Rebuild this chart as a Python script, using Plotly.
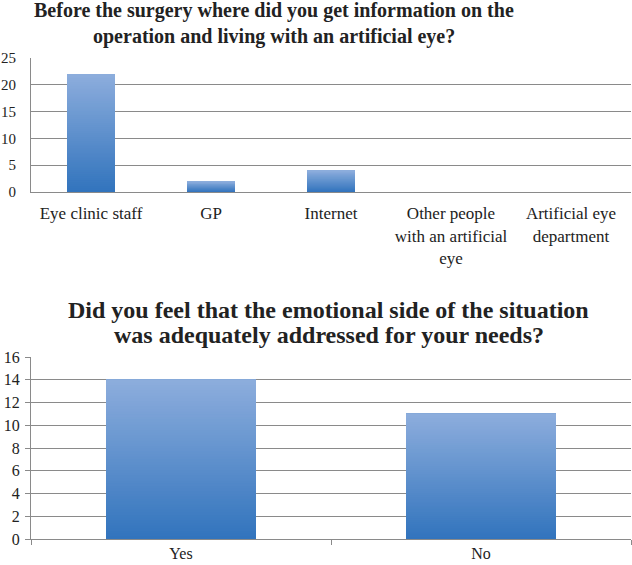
import plotly.graph_objects as go

# ---- data ----
cats1 = ["Eye clinic staff", "GP", "Internet",
         "Other people<br>with an artificial<br>eye", "Artificial eye<br>department"]
vals1 = [22, 2, 4, 0, 0]
title1_lines = ["Before the surgery where did you get information on the",
                "operation and living with an artificial eye?"]

cats2 = ["Yes", "No"]
vals2 = [14, 11]
title2_lines = ["Did you feel that the emotional side of the situation",
                "was adequately addressed for your needs?"]

# ---- style ----
TOP = (142, 174, 221)
BOT = (50, 116, 189)
NSEG = 60
FONT = "Liberation Serif"
GRID = "#8a8a8a"
W, H = 632, 565
L = 31


def seg_color(t):
    r = [round(BOT[k] + (TOP[k] - BOT[k]) * t) for k in range(3)]
    return f"rgb({r[0]},{r[1]},{r[2]})"


fig = go.Figure()


def add_gradient_bars(cats, vals, xa, ya, width):
    for i in range(NSEG):
        f = i / NSEG
        fig.add_trace(go.Bar(
            x=cats, y=[v * (1 - f) for v in vals], base=[v * f for v in vals],
            width=width, marker=dict(color=seg_color(f), line=dict(width=0)),
            xaxis=xa, yaxis=ya, showlegend=False, hoverinfo="skip"))


add_gradient_bars(cats1, vals1, "x", "y", 0.4)
add_gradient_bars(cats2, vals2, "x2", "y2", 0.5)

xtickfont = dict(family=FONT, size=17, color="#222")
xtickfont2 = dict(family=FONT, size=16, color="#222")
ytickfont1 = dict(family=FONT, size=15, color="#222")
ytickfont2 = dict(family=FONT, size=16, color="#222")


def px(xp):
    return (xp - L) / (W - L)


def py(yp):
    return 1 - yp / H


annotations = []
for line, yc in zip(title1_lines, [10, 36]):
    annotations.append(dict(text=line, x=px(274), xref="paper", y=py(yc), yref="paper",
                            xanchor="center", yanchor="middle", showarrow=False,
                            font=dict(family=FONT, size=20, color="#222", weight="bold")))
for line, yc in zip(title2_lines, [309.5, 335]):
    annotations.append(dict(text=line, x=px(329), xref="paper", y=py(yc), yref="paper",
                            xanchor="center", yanchor="middle", showarrow=False,
                            font=dict(family=FONT, size=24, color="#222", weight="bold")))

fig.update_layout(
    width=W, height=H, barmode="overlay",
    margin=dict(l=L, r=1, t=0, b=0),
    paper_bgcolor="white", plot_bgcolor="white",
    font=dict(family=FONT, color="#222"),
    xaxis=dict(domain=[0, 1], anchor="y", showgrid=False, showline=True,
               linecolor=GRID, linewidth=1, ticks="", tickfont=xtickfont,
               ticklabelstandoff=6, automargin=False,
               categoryorder="array", categoryarray=cats1, fixedrange=True),
    yaxis=dict(domain=[py(192), py(58)], anchor="x", range=[0, 25],
               tickvals=[0, 5, 10, 15, 20, 25], showgrid=True, gridcolor=GRID,
               gridwidth=1, showline=True, linecolor=GRID, linewidth=1,
               ticks="", ticklabelstandoff=11, tickfont=ytickfont1,
               zeroline=False, fixedrange=True, automargin=False),
    xaxis2=dict(domain=[0, 1], anchor="y2", showgrid=False, showline=True,
                linecolor=GRID, linewidth=1, ticks="outside", tickson="boundaries",
                ticklen=5, tickcolor=GRID, tickfont=xtickfont2, ticklabelstandoff=0,
                automargin=False,
                categoryorder="array", categoryarray=cats2, fixedrange=True),
    yaxis2=dict(domain=[py(539), py(357)], anchor="x2", range=[0, 16],
                dtick=2, showgrid=True, gridcolor=GRID, gridwidth=1,
                showline=True, linecolor=GRID, linewidth=1, ticks="outside",
                ticklen=5, tickcolor=GRID, tickfont=ytickfont2, ticklabelstandoff=2,
                zeroline=False, fixedrange=True, automargin=False),
    annotations=annotations,
)

fig.write_html("out.html", config={"displayModeBar": False},
               post_script="document.body.style.margin='0';")
